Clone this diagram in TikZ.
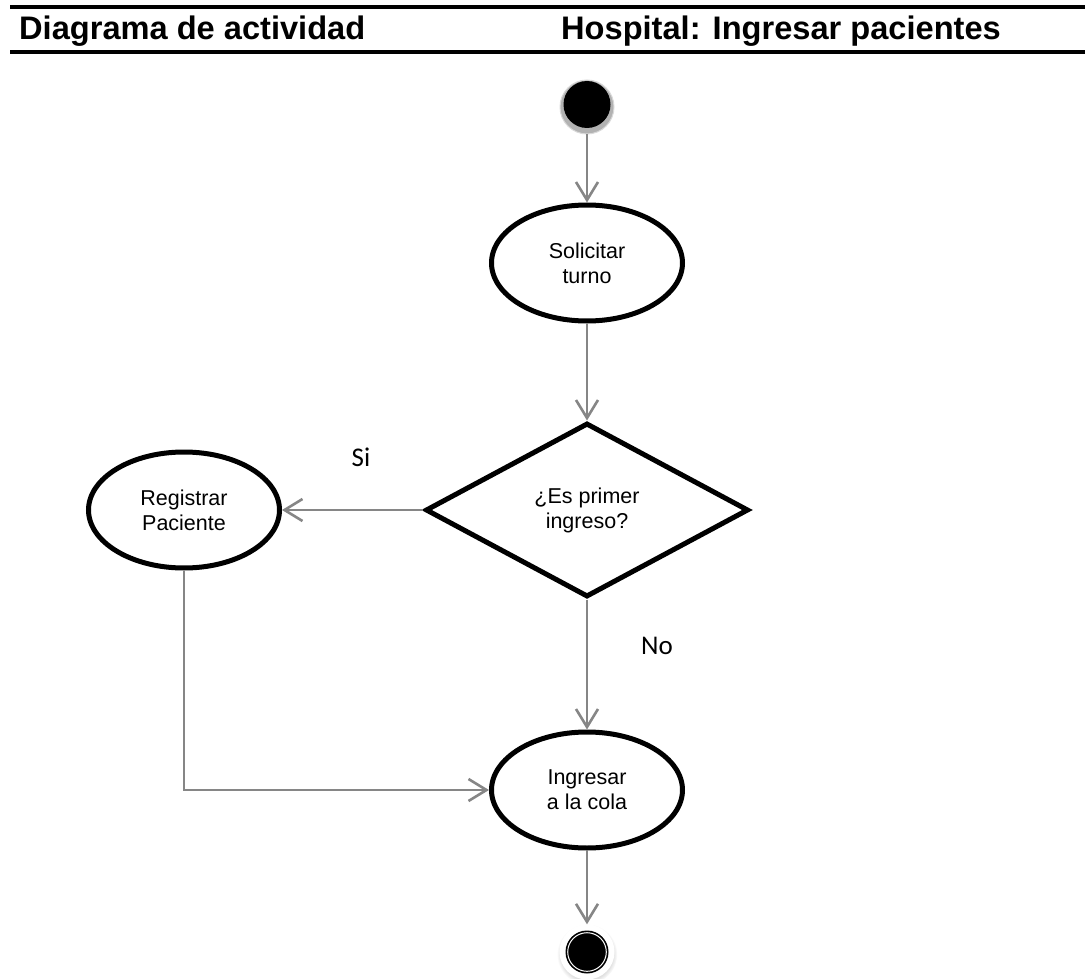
\documentclass[tikz,border=0pt]{standalone}
\usepackage{fontspec}
\setmainfont{Liberation Sans}
\newfontfamily\guardfont{Carlito}
\usetikzlibrary{shapes.geometric,arrows.meta,shadows}
\definecolor{flowgray}{RGB}{134,134,134}
\begin{document}
\begin{tikzpicture}[x=1pt,y=-1pt,
  activity/.style={ellipse, draw=black, line width=5pt, minimum width=191pt,
    minimum height=116pt, inner sep=0pt, align=center,
    font=\fontsize{21.5}{25}\selectfont},
  decision/.style={diamond, draw=black, line width=5pt, minimum width=323pt,
    minimum height=174pt, inner sep=0pt, align=center,
    font=\fontsize{21.5}{25}\selectfont},
  flow/.style={draw=flowgray, line width=2.6pt,
    -{Straight Barb[length=18pt,width=22pt]}},
  guard/.style={inner sep=0pt, font=\guardfont\fontsize{27}{31}\selectfont},
  heading/.style={inner sep=0pt, font=\fontsize{32.6}{38}\selectfont\bfseries},
  rule/.style={line width=3.2pt, black}
]
\useasboundingbox (0,0) rectangle (1085,979);

% header band
\draw[rule] (10,7) -- (1085,7);
\draw[rule] (10,52) -- (1085,52);
\node[heading, anchor=base west] (htitle) at (19,40) {Diagrama de actividad};
\node[heading, anchor=base east] (hcase) at (1001,40) {Hospital: Ingresar pacientes};

% initial node: black disc on a worn grey rim
\node[circle, minimum size=54pt, inner sep=0pt, fill=gray!60, draw=gray!30,
      line width=1pt] (start) at (587,107) {};
\fill[black] (587,104.5) circle (23.5);

% activities
\node[activity] (solicitar) at (587,263) {Solicitar\\turno};
\node[decision] (primer) at (587,510) {¿Es primer\\ingreso?};
\node[activity] (registrar) at (184,510) {Registrar\\Paciente};
\node[activity] (ingresar) at (587,790) {Ingresar\\a la cola};

% final node
\node[circle, minimum size=55pt, inner sep=0pt, fill=white,
      circular drop shadow={shadow xshift=0pt, shadow yshift=-2pt,
      opacity=0.25, fill=gray}] (fin) at (587,952) {};
\fill[black] (fin) circle (21.5);
\draw[white, line width=1pt] (fin) circle (19.3);

% guards
\node[guard] (si) at (361,457) {Si};
\node[guard] (no) at (657,646) {No};

% control flow
\draw[flow] (start) -- (solicitar);
\draw[flow] (solicitar) -- (primer);
\draw[flow] (primer.west) -- (registrar);
\draw[flow] (primer.south) -- (ingresar);
\draw[flow] (registrar) |- (ingresar);
\draw[flow] (ingresar) -- (fin);
\end{tikzpicture}
\end{document}
